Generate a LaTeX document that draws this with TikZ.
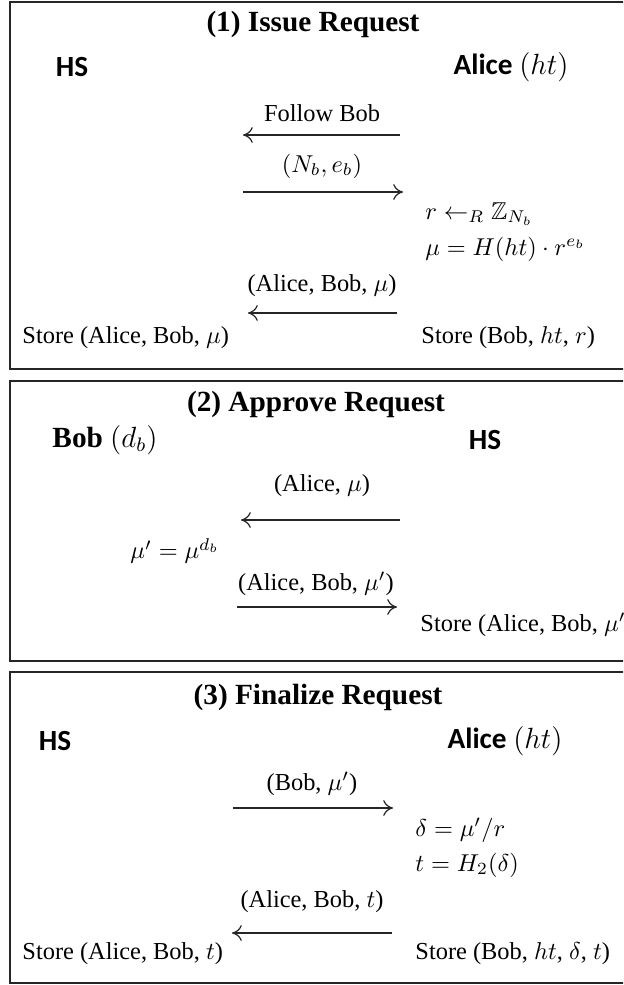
\documentclass[tikz,border=0pt]{standalone}
\usepackage{amssymb}
\usepackage[no-math]{fontspec}
\setmainfont{Liberation Serif}
\newfontfamily\hsfont{Carlito}
\usetikzlibrary{arrows.meta}
\begin{document}
\begin{tikzpicture}[x=0.41pt,y=-0.41pt,
  frame/.style={draw=black!85,line width=0.6pt},
  ttl/.style={font=\large\bfseries,inner sep=0pt},
  party/.style={font=\large\hsfont\bfseries,inner sep=0pt},
  lbl/.style={inner sep=0pt},
  msg/.style={draw=black!85,line width=0.5pt,-{To[length=4pt,width=6.5pt]}}]
\useasboundingbox (0,0) rectangle (623,985);
\clip (0,0) rectangle (623,985);
% ---------- Box 1 ----------
\draw[frame] (660,2) -- (10,2) -- (10,369) -- (660,369);
\node[ttl] (t1) at (313,24) {(1) Issue Request};
\node[party] (hs1) at (72,67) {HS};
\node[party] (al1) at (511,67) {Alice \normalfont\large$(ht)$};
\node[lbl] (l11) at (322,113) {Follow Bob};
\coordinate (a11s) at (400,135); \coordinate (a11e) at (243,135);
\draw[msg] (a11s) -- (a11e);
\node[lbl] (l12) at (322,166) {$(N_b,e_b)$};
\coordinate (a12s) at (243,192); \coordinate (a12e) at (403,192);
\draw[msg] (a12s) -- (a12e);
\node[lbl,anchor=west] (c11) at (425,214) {$r\leftarrow_R\mathbb{Z}_{N_b}$};
\node[lbl,anchor=west] (c12) at (425,249) {$\mu=H(ht)\cdot r^{e_b}$};
\node[lbl] (l13) at (322,286) {(Alice, Bob, $\mu$)};
\coordinate (a13s) at (397,313); \coordinate (a13e) at (248,313);
\draw[msg] (a13s) -- (a13e);
\node[lbl,anchor=west] (s11) at (22,338) {Store (Alice, Bob, $\mu$)};
\node[lbl,anchor=west] (s12) at (421,338) {Store (Bob, $ht$, $r$)};
% ---------- Box 2 ----------
\draw[frame] (660,381) -- (10,381) -- (10,661) -- (660,661);
\node[ttl] (t2) at (316,404) {(2) Approve Request};
\node[lbl,font=\large] (bob2) at (105,440) {\textbf{Bob} $(d_b)$};
\node[party] (hs2) at (485,440) {HS};
\node[lbl] (l21) at (322,486) {(Alice, $\mu$)};
\coordinate (a21s) at (400,520); \coordinate (a21e) at (241,520);
\draw[msg] (a21s) -- (a21e);
\node[lbl] (c21) at (175,551) {$\mu'=\mu^{d_b}$};
\node[lbl] (l22) at (316,584) {(Alice, Bob, $\mu'$)};
\coordinate (a22s) at (237,607); \coordinate (a22e) at (397,607);
\draw[msg] (a22s) -- (a22e);
\node[lbl,anchor=west] (s21) at (420,625) {Store (Alice, Bob, $\mu'$)};
% ---------- Box 3 ----------
\draw[frame] (660,672) -- (10,672) -- (10,983) -- (660,983);
\node[ttl] (t3) at (318,697) {(3) Finalize Request};
\node[party] (hs3) at (55,741) {HS};
\node[party] (al3) at (505,741) {Alice \normalfont\large$(ht)$};
\node[lbl] (l31) at (312,784) {(Bob, $\mu'$)};
\coordinate (a31s) at (233,808); \coordinate (a31e) at (393,808);
\draw[msg] (a31s) -- (a31e);
\node[lbl,anchor=west] (c31) at (415,830) {$\delta=\mu'/r$};
\node[lbl,anchor=west] (c32) at (415,865) {$t=H_2(\delta)$};
\node[lbl] (l32) at (312,902) {(Alice, Bob, $t$)};
\coordinate (a32s) at (392,933); \coordinate (a32e) at (232,933);
\draw[msg] (a32s) -- (a32e);
\node[lbl,anchor=west] (s31) at (22,954) {Store (Alice, Bob, $t$)};
\node[lbl,anchor=west] (s32) at (415,954) {Store (Bob, $ht$, $\delta$, $t$)};
\end{tikzpicture}
\end{document}
